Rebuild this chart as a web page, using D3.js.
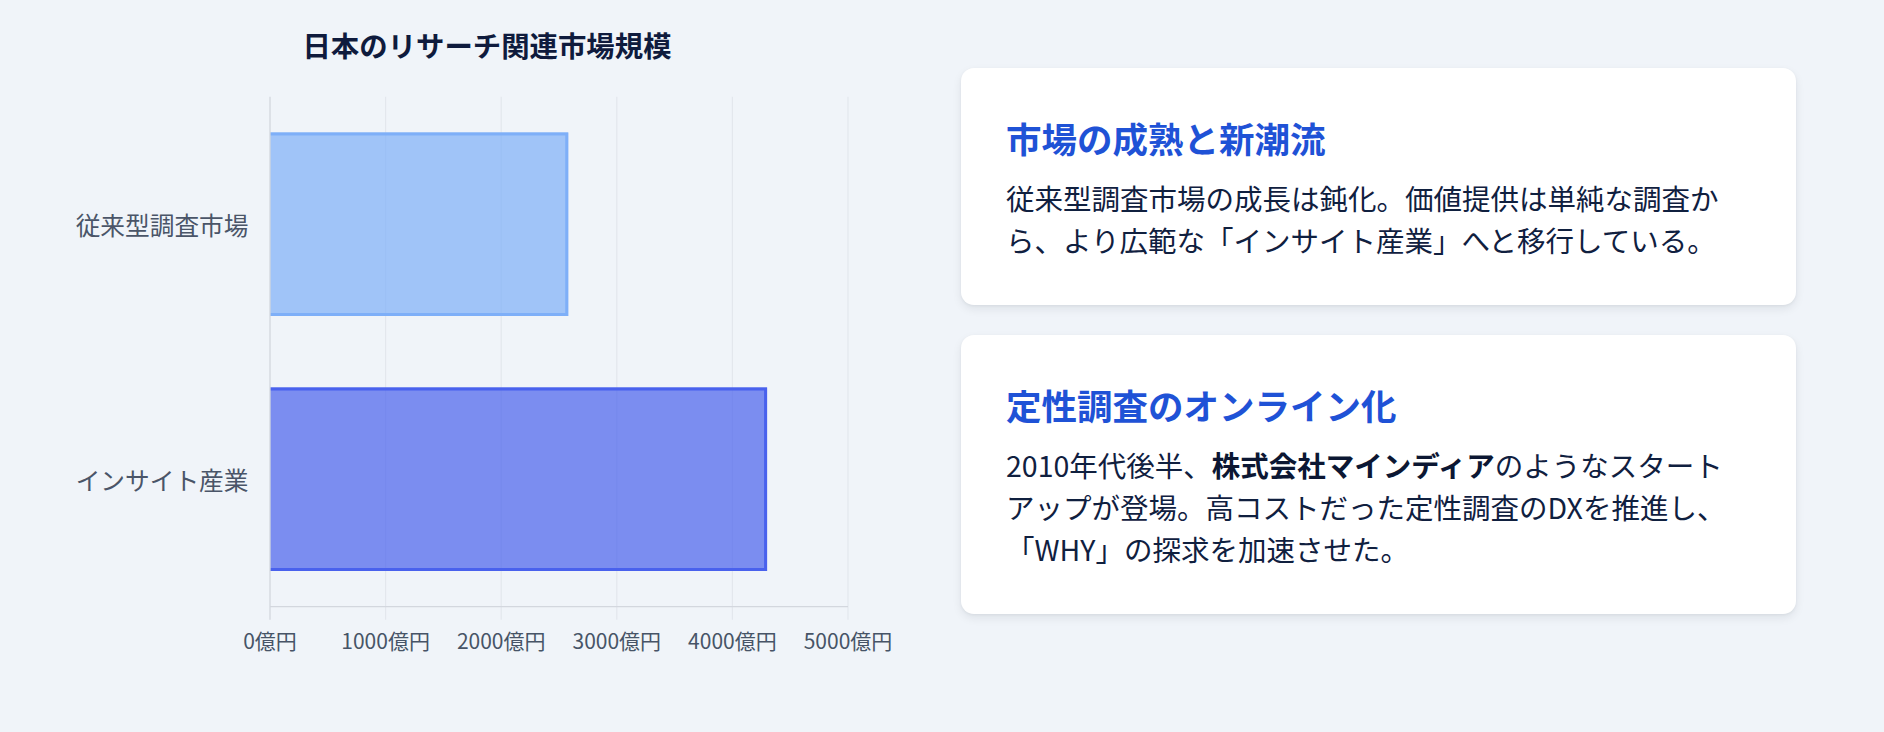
<!DOCTYPE html>
<html lang="ja">
<head>
<meta charset="UTF-8">
<title>日本のリサーチ関連市場規模</title>
<style>
  body {
    margin: 0;
    width: 1884px;
    height: 732px;
    overflow: hidden;
    background: #f0f4f9;
    font-family: "Noto Sans CJK JP", "Noto Sans", sans-serif;
    position: relative;
  }
  #chart { position: absolute; left: 0; top: 0; }
  .card {
    position: absolute;
    left: 961px;
    width: 835px;
    box-sizing: border-box;
    padding: 46px 45px 44px 45px;
    background: #ffffff;
    border-radius: 13px;
    box-shadow: 0 4px 10px rgba(15, 23, 42, 0.08), 0 1px 3px rgba(15, 23, 42, 0.05);
  }
  .card h2 {
    margin: 0 0 16px 0;
    font-size: 35.5px;
    line-height: 47px;
    font-weight: 700;
    color: #1f52d6;
  }
  .card p {
    margin: 0;
    font-size: 28.5px;
    line-height: 42px;
    color: #10203f;
  }
  .card p span { display: block; white-space: nowrap; }
  .card strong { font-weight: 700; color: #0c1733; }
</style>
</head>
<body>
<svg id="chart" width="960" height="732"></svg>
<script src="https://d3js.org/d3.v7.min.js"></script>
<script>
// chart data
const chartTitle = "日本のリサーチ関連市場規模";
const categories = ["従来型調査市場", "インサイト産業"];
const values = [2580, 4300];          // 億円
const tickValues = [0, 1000, 2000, 3000, 4000, 5000];
const barColors = ["#7eaff8", "#4961ed"];

// side cards
const cardTitles = ["市場の成熟と新潮流", "定性調査のオンライン化"];
const cardLines = [
  ["従来型調査市場の成長は鈍化。価値提供は単純な調査か",
   "ら、より広範な「インサイト産業」へと移行している。"],
  ["2010年代後半、<strong>株式会社マインディア</strong>のようなスタート",
   "アップが登場。高コストだった定性調査のDXを推進し、",
   "「WHY」の探求を加速させた。"]
];
const cardTops = [68, 335];

const svg = d3.select("#chart");
const plotLeft = 270, plotRight = 848, plotTop = 96.7, plotBottom = 606.7;

const x = d3.scaleLinear().domain([0, 5000]).range([plotLeft, plotRight]);
const y = d3.scaleBand().domain(categories).range([plotTop, plotBottom])
  .paddingInner(0.28).paddingOuter(0.14);

// title
svg.append("text")
  .attr("x", 487).attr("y", 44)
  .attr("text-anchor", "middle")
  .attr("dominant-baseline", "central")
  .attr("font-size", 28.4)
  .attr("font-weight", 700)
  .attr("fill", "#0f1b3d")
  .text(chartTitle);

// vertical grid lines (with tick marks below the axis)
svg.append("g").selectAll("line")
  .data(tickValues.slice(1))
  .join("line")
  .attr("x1", d => x(d)).attr("x2", d => x(d))
  .attr("y1", plotTop).attr("y2", plotBottom + 13)
  .attr("stroke", "#e3e7ed").attr("stroke-width", 1.2);

// bars
const bars = svg.append("g").selectAll("g")
  .data(categories)
  .join("g");

bars.append("rect")
  .attr("x", x(0))
  .attr("y", d => y(d))
  .attr("width", (d, i) => x(values[i]) - x(0))
  .attr("height", y.bandwidth())
  .attr("fill", (d, i) => barColors[i])
  .attr("fill-opacity", 0.7);

// border on top, end and bottom (start side skipped)
bars.append("path")
  .attr("d", (d, i) => {
    const x0 = x(0), x1 = x(values[i]) - 1.5;
    const y0 = y(d) + 1.5, y1 = y(d) + y.bandwidth() - 1.5;
    return `M${x0},${y0}H${x1}V${y1}H${x0}`;
  })
  .attr("fill", "none")
  .attr("stroke", (d, i) => barColors[i])
  .attr("stroke-width", 3);

// axis lines
svg.append("line")
  .attr("x1", plotLeft).attr("x2", plotLeft)
  .attr("y1", plotTop).attr("y2", plotBottom + 13)
  .attr("stroke", "#d3d7de").attr("stroke-width", 1.3);
svg.append("line")
  .attr("x1", plotLeft).attr("x2", plotRight)
  .attr("y1", plotBottom).attr("y2", plotBottom)
  .attr("stroke", "#d3d7de").attr("stroke-width", 1.3);

// x tick labels
svg.append("g").selectAll("text")
  .data(tickValues)
  .join("text")
  .attr("x", d => x(d))
  .attr("y", 640)
  .attr("text-anchor", "middle")
  .attr("dominant-baseline", "central")
  .attr("font-size", 21)
  .attr("fill", "#475467")
  .text(d => d + "億円");

// category labels
svg.append("g").selectAll("text")
  .data(categories)
  .join("text")
  .attr("x", 248.5)
  .attr("y", d => y(d) + y.bandwidth() / 2)
  .attr("text-anchor", "end")
  .attr("dominant-baseline", "central")
  .attr("font-size", 24.7)
  .attr("fill", "#4a5568")
  .text(d => d);

// cards
const cards = d3.select("body").selectAll("div.card")
  .data(cardTitles)
  .join("div")
  .attr("class", "card")
  .style("top", (d, i) => cardTops[i] + "px");

cards.append("h2").text(d => d);
cards.append("p")
  .selectAll("span")
  .data((d, i) => cardLines[i])
  .join("span")
  .html(d => d);
</script>
</body>
</html>
